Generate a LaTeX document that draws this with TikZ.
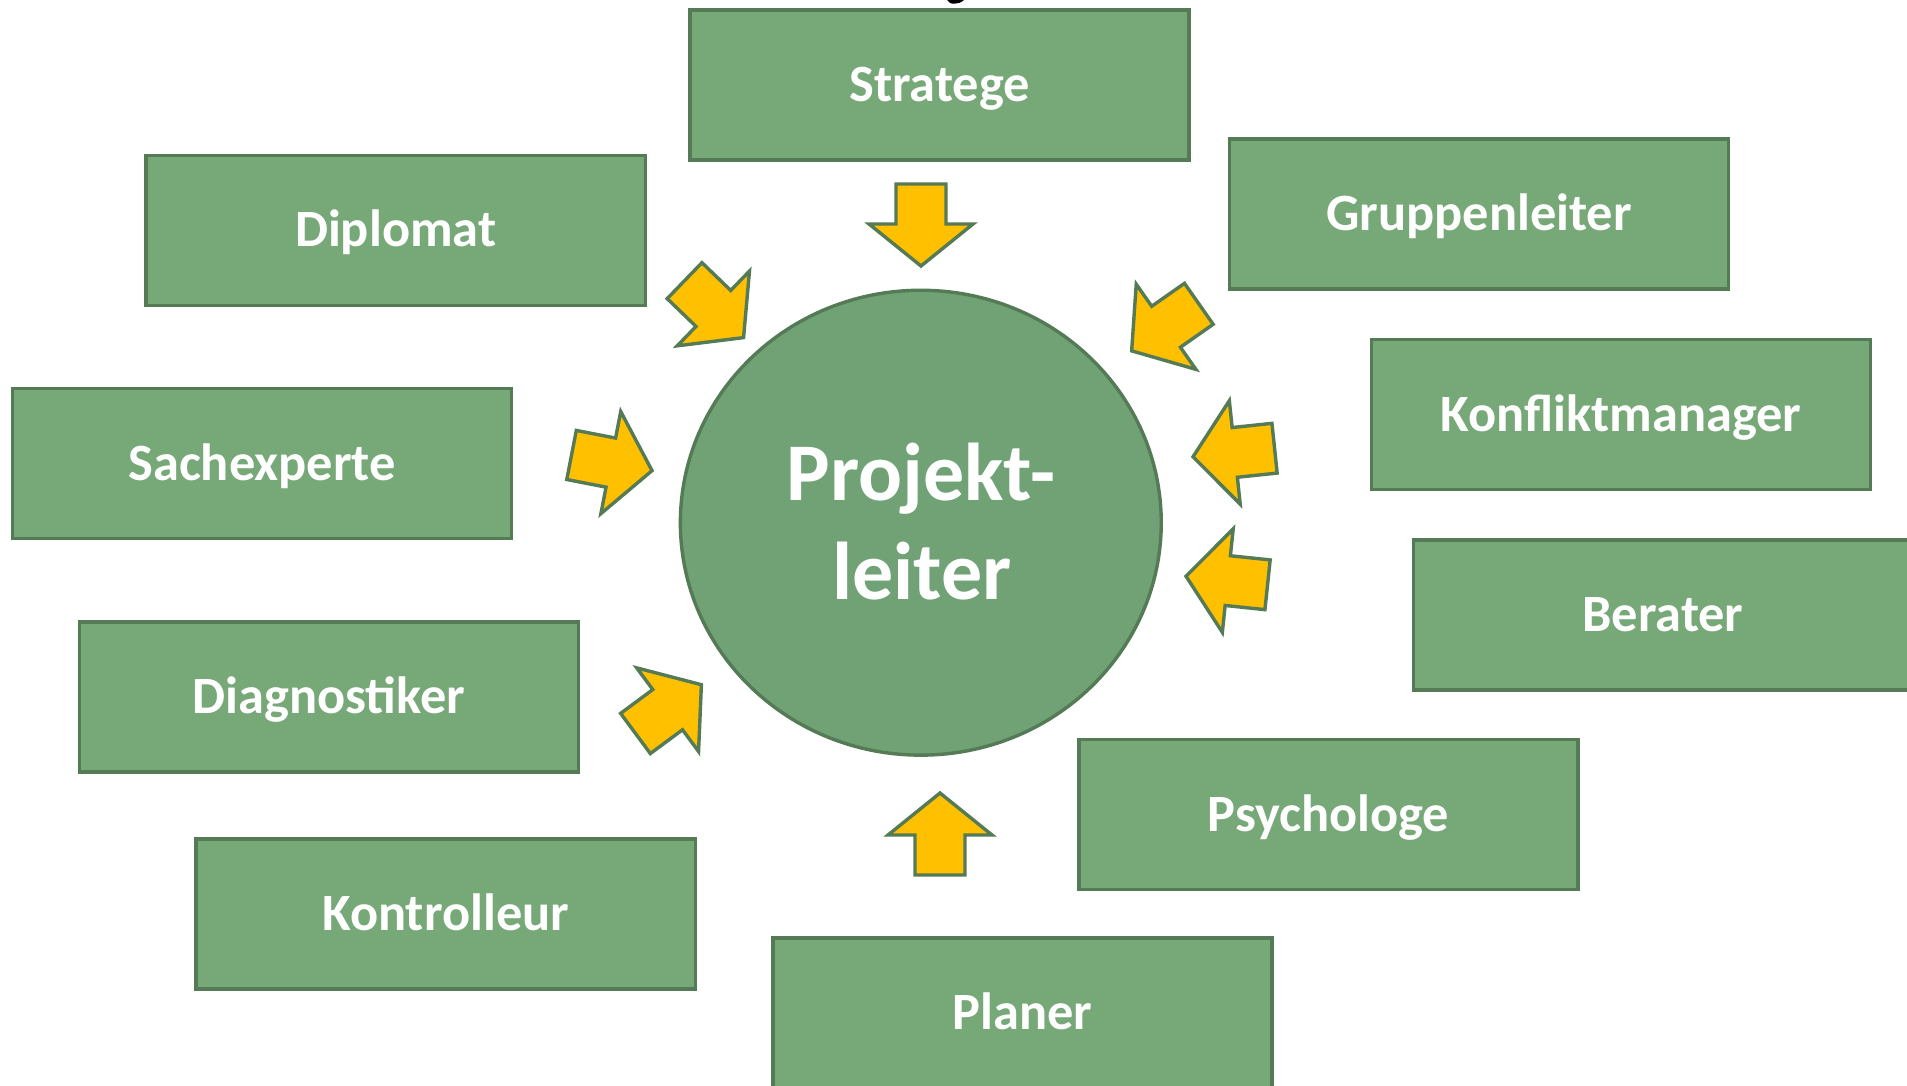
\documentclass[tikz,border=0pt]{standalone}
\usepackage{fontspec}
\setmainfont{Carlito}
\usetikzlibrary{shapes.geometric}
\definecolor{boxfill}{RGB}{119,168,119}
\definecolor{boxline}{RGB}{84,122,86}
\definecolor{circfill}{RGB}{112,162,118}
\definecolor{arrowfill}{RGB}{255,192,0}
\tikzset{
  rolebox/.style={draw=boxline, fill=boxfill, line width=0.034cm,
    minimum width=4.99cm, minimum height=1.50cm, inner sep=0pt,
    text=white, font=\fontsize{14.9}{18}\selectfont\bfseries,
    text height=0.33cm, text depth=0pt},
  centercirc/.style={ellipse, draw=boxline, fill=circfill, line width=0.034cm,
    minimum width=4.806cm, minimum height=4.646cm, inner sep=0pt},
  centertext/.style={anchor=base, inner sep=0pt, text=white,
    font=\fontsize{23.3}{28}\selectfont\bfseries},
  blockarrow/.style={draw=boxline, fill=arrowfill, line width=0.034cm, line join=miter}
}
\newcommand\roleArrow[2]{%
  \draw[blockarrow, shift={(#1)}, rotate=#2]
    (-2,0) -- (-44,-52) -- (-44,-25) -- (-84,-25) -- (-84,25) -- (-44,25) -- (-44,52) -- cycle;}
\begin{document}
\begin{tikzpicture}[x=0.01cm, y=-0.01cm]
  \useasboundingbox (0,0) rectangle (1907,1085);
  \clip (0,0) rectangle (1907,1085);
  \fill[white] (0,0) rectangle (1907,1085);

  % cut-off descender of the title above the picture
  \fill[black] (947,0) .. controls (949,5) and (959,5) .. (964,0) -- cycle;

  % role boxes
  \node[rolebox] (strat) at (939.5,85)   {Stratege};
  \node[rolebox] (dipl)  at (395.7,230.3) {Diplomat};
  \node[rolebox] (grup)  at (1479,214)   {Gruppenleiter};
  \node[rolebox] (sach)  at (262,463.7)  {Sachexperte};
  \node[rolebox] (konf)  at (1620.9,414.7) {Konfliktmanager};
  \node[rolebox] (bera)  at (1663,615)   {Berater};
  \node[rolebox] (diag)  at (329,697)    {Diagnostiker};
  \node[rolebox] (kont)  at (445.6,914)  {Kontrolleur};
  \node[rolebox] (psych) at (1328.5,814.5) {Psychologe};
  \node[rolebox] (plan)  at (1022.5,1013) {Planer};

  % central circle
  \node[centercirc] (pl) at (920.8,522.7) {};
  \node[centertext] (plA) at (921,500) {Projekt-};
  \node[centertext] (plB) at (922,599) {leiter};

  % arrow tips
  \coordinate (tStrat) at (921,268);
  \coordinate (tPlan)  at (940,791);
  \coordinate (tDipl)  at (745,339);
  \coordinate (tGrup)  at (1130,352);
  \coordinate (tSach)  at (654,471);
  \coordinate (tKonf)  at (1191,457);
  \coordinate (tBera)  at (1184,576);
  \coordinate (tDiag)  at (703,683.5);

  \roleArrow{tStrat}{-90}
  \roleArrow{tPlan}{90}
  \roleArrow{tDipl}{-44}
  \roleArrow{tGrup}{215}
  \roleArrow{tSach}{-11}
  \roleArrow{tKonf}{186}
  \roleArrow{tBera}{174}
  \roleArrow{tDiag}{36.5}
\end{tikzpicture}
\end{document}
